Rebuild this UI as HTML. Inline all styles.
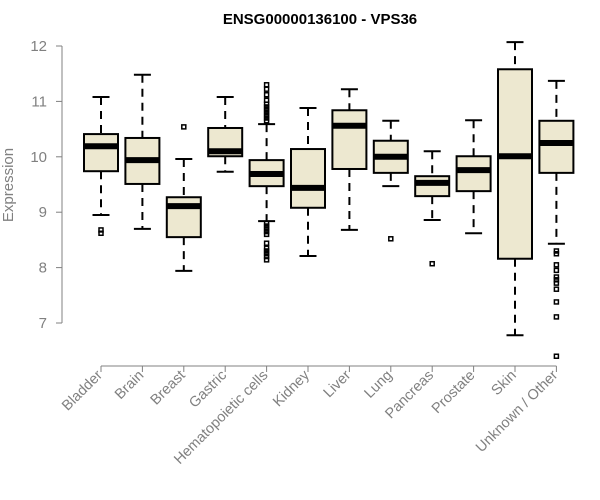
<!DOCTYPE html>
<html><head><meta charset="utf-8"><style>body{margin:0;background:#fff}svg{display:block;font-family:"Liberation Sans",Arial,sans-serif}</style></head>
<body>
<svg id="c" width="600" height="500">
<text x="320" y="24" text-anchor="middle" font-weight="bold" font-size="15">ENSG00000136100 - VPS36</text>
<text transform="translate(13,185) rotate(-90)" text-anchor="middle" font-size="15" fill="#808080">Expression</text>
</svg>
<script>
const categories=["Bladder","Brain","Breast","Gastric","Hematopoietic cells","Kidney","Liver","Lung","Pancreas","Prostate","Skin","Unknown / Other"];
const whiskerLow=[8.95,8.70,7.94,9.73,8.84,8.21,8.68,9.47,8.86,8.62,6.78,8.43];
const q1=[9.74,9.51,8.55,10.01,9.47,9.08,9.78,9.71,9.29,9.38,8.16,9.71];
const median=[10.19,9.94,9.11,10.10,9.69,9.44,10.56,10.0,9.53,9.76,10.01,10.25];
const q3=[10.41,10.34,9.27,10.52,9.94,10.14,10.84,10.29,9.65,10.01,11.58,10.65];
const whiskerHigh=[11.08,11.48,9.96,11.08,10.59,10.88,11.22,10.65,10.1,10.66,12.07,11.37];
const outliers=[[8.68,8.62],[],[10.54],[],[11.3,11.22,11.12,11.02,10.95,10.9,10.85,10.8,10.75,10.7,10.65,8.8,8.75,8.7,8.65,8.6,8.44,8.35,8.3,8.25,8.2,8.14],[],[],[8.52],[8.07],[],[],[8.3,8.25,8.05,7.95,7.83,7.78,7.72,7.61,7.38,7.11,6.4]];
const yTicks=[7,8,9,10,11,12];
const NS="http://www.w3.org/2000/svg",svg=document.getElementById('c');
const y=v=>46+(12-v)*55.4;
const x=i=>101+i*41.4;
function mk(t,a,p){const e=document.createElementNS(NS,t);for(const k in a)e.setAttribute(k,a[k]);(p||svg).appendChild(e);return e;}
let ax=mk('line',{x1:62,y1:y(12),x2:62,y2:y(7),stroke:'#808080'});


yTicks.forEach(t=>{
 let l=mk('line',{x1:56,x2:62,y1:y(t),y2:y(t),stroke:'#808080'});
 
 
 let tx=mk('text',{x:47,y:y(t)+5,'text-anchor':'end','font-size':15,fill:'#808080'});
 tx.textContent=t;
 
 
});
let xa=mk('line',{x1:x(0),x2:x(11),y1:366,y2:366,stroke:'#808080'});


categories.forEach((c,i)=>{
 const cx=x(i),g=mk('g',{});
 
 
 mk('line',{x1:cx,x2:cx,y1:366,y2:372,stroke:'#808080'},g);
 const lb=mk('text',{transform:`translate(${cx+2},${376}) rotate(-45)`,'text-anchor':'end','font-size':14.5,fill:'#808080'},g);
 lb.textContent=c;
 
 
 const w=17;
 mk('line',{x1:cx,x2:cx,y1:y(whiskerHigh[i]),y2:y(q3[i]),stroke:'#000','stroke-width':2,'stroke-dasharray':'8,6'},g);
 mk('line',{x1:cx,x2:cx,y1:y(q1[i]),y2:y(whiskerLow[i]),stroke:'#000','stroke-width':2,'stroke-dasharray':'8,6'},g);
 mk('line',{x1:cx-w/2,x2:cx+w/2,y1:y(whiskerHigh[i]),y2:y(whiskerHigh[i]),stroke:'#000','stroke-width':2},g);
 mk('line',{x1:cx-w/2,x2:cx+w/2,y1:y(whiskerLow[i]),y2:y(whiskerLow[i]),stroke:'#000','stroke-width':2},g);
 mk('rect',{x:cx-w,y:y(q3[i]),width:2*w,height:y(q1[i])-y(q3[i]),fill:'#ede8d0',stroke:'#000','stroke-width':2},g);
 mk('line',{x1:cx-w,x2:cx+w,y1:y(median[i]),y2:y(median[i]),stroke:'#000','stroke-width':6},g);
 outliers[i].forEach(v=>{
  const o=mk('rect',{x:cx-2,y:y(v)-2,width:4,height:4,fill:'none',stroke:'#000','stroke-width':1.5},g);
  
  
 });
});
</script>
</body></html>
